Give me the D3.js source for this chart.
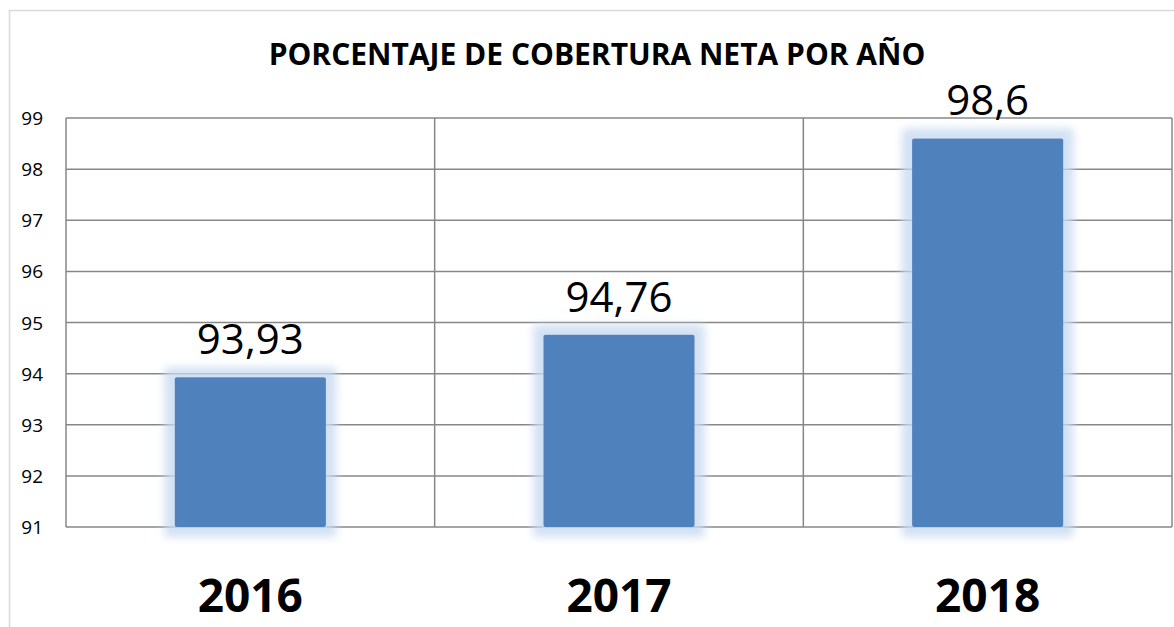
<!DOCTYPE html>
<html>
<head>
<meta charset="utf-8">
<script src="https://cdn.jsdelivr.net/npm/d3@7"></script>
<style>
  body { margin: 0; background: #fff; }
  svg { display: block; font-family: "Open Sans", "Liberation Sans", sans-serif; }
</style>
</head>
<body>
<div id="chart-container"></div>
<script>
const years = ["2016", "2017", "2018"];
const coverage = [93.93, 94.76, 98.6];
const coverageLabels = ["93,93", "94,76", "98,6"];
const yTicks = [91, 92, 93, 94, 95, 96, 97, 98, 99];

const svgWidth = 1174;
const svgHeight = 627;
const margin = { top: 118, right: 2, bottom: 100, left: 66 };
const width = svgWidth - margin.left - margin.right;
const height = svgHeight - margin.top - margin.bottom;

const svg = d3.select("#chart-container")
    .append("svg")
    .attr("width", svgWidth)
    .attr("height", svgHeight);

const defs = svg.append("defs");
const glow = defs.append("filter")
    .attr("id", "glow")
    .attr("x", "-30%").attr("y", "-30%")
    .attr("width", "160%").attr("height", "160%");
glow.append("feMorphology")
    .attr("in", "SourceAlpha").attr("operator", "dilate").attr("radius", 10).attr("result", "grow");
glow.append("feGaussianBlur").attr("in", "grow").attr("stdDeviation", 4).attr("result", "blur");
glow.append("feFlood").attr("flood-color", "#c6d9f1").attr("flood-opacity", 0.8);
glow.append("feComposite").attr("in2", "blur").attr("operator", "in").attr("result", "halo");
const merge = glow.append("feMerge");
merge.append("feMergeNode").attr("in", "halo");
merge.append("feMergeNode").attr("in", "SourceGraphic");

// outer chart border
svg.append("rect")
    .attr("x", 9.5).attr("y", 10.5)
    .attr("width", svgWidth + 20).attr("height", svgHeight + 20)
    .attr("fill", "none")
    .attr("stroke", "#d9d9d9")
    .attr("stroke-width", 1.5);

svg.append("text")
    .attr("x", 597)
    .attr("y", 65)
    .attr("text-anchor", "middle")
    .attr("font-size", "30px")
    .attr("font-weight", "bold")
    .text("PORCENTAJE DE COBERTURA NETA POR AÑO");

const chart = svg.append("g")
    .attr("transform", `translate(${margin.left},${margin.top})`);

const scaleX = d3.scaleBand()
    .domain(years)
    .range([0, width])
    .padding(0);

const scaleY = d3.scaleLinear()
    .domain([91, 99])
    .range([height, 0]);

// horizontal grid
chart.selectAll(".hgrid")
    .data(yTicks)
    .enter()
    .append("line")
    .attr("x1", 0).attr("x2", width)
    .attr("y1", d => scaleY(d)).attr("y2", d => scaleY(d))
    .attr("stroke", "#878787")
    .attr("stroke-width", 1.5);

// vertical grid at category boundaries
chart.selectAll(".vgrid")
    .data(years.concat(["end"]))
    .enter()
    .append("line")
    .attr("x1", (d, i) => i < years.length ? scaleX(d) : width)
    .attr("x2", (d, i) => i < years.length ? scaleX(d) : width)
    .attr("y1", 0).attr("y2", height)
    .attr("stroke", "#878787")
    .attr("stroke-width", 1.5);

// y tick labels
chart.selectAll(".ylabel")
    .data(yTicks)
    .enter()
    .append("text")
    .attr("x", -23)
    .attr("y", d => scaleY(d) + 7)
    .attr("text-anchor", "end")
    .attr("font-size", "19px")
    .text(d => d);

const barWidth = scaleX.bandwidth() * 0.41;

chart.selectAll(".bar")
    .data(coverage)
    .enter()
    .append("rect")
    .attr("x", (d, i) => scaleX(years[i]) + scaleX.bandwidth() / 2 - barWidth / 2)
    .attr("y", d => scaleY(d))
    .attr("width", barWidth)
    .attr("height", d => scaleY(91) - scaleY(d))
    .attr("rx", 2)
    .attr("fill", "#4f81bd")
    .attr("filter", "url(#glow)");

chart.selectAll(".label")
    .data(coverage)
    .enter()
    .append("text")
    .attr("x", (d, i) => scaleX(years[i]) + scaleX.bandwidth() / 2)
    .attr("y", d => scaleY(d) - 23)
    .attr("text-anchor", "middle")
    .attr("font-size", "42px")
    .text((d, i) => coverageLabels[i]);

chart.selectAll(".xlabel")
    .data(years)
    .enter()
    .append("text")
    .attr("x", d => scaleX(d) + scaleX.bandwidth() / 2)
    .attr("y", height + 85)
    .attr("text-anchor", "middle")
    .attr("font-size", "46px")
    .attr("font-weight", "bold")
    .text(d => d);
</script>
</body>
</html>
